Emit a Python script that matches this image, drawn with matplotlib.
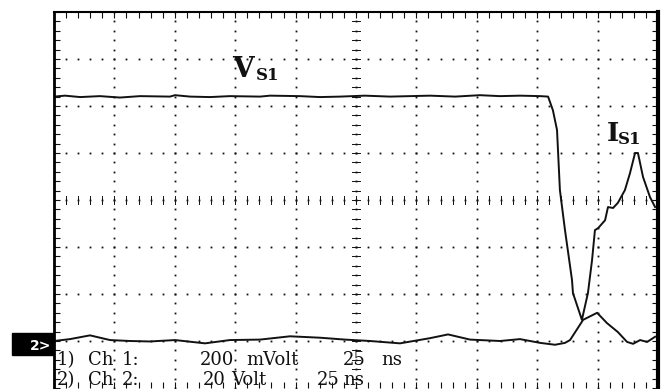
import numpy as np
from matplotlib import pyplot as plt
from matplotlib.patches import Rectangle

# traces: time in ns (25 ns/div), amplitude in divisions
ch1_t = [0, 4.6, 10.8, 19.0, 27.3, 35.6, 48.0, 50.1, 56.3, 64.6, 72.8, 85.3, 89.4,
         101.8, 110.1, 118.4, 128.7, 139.1, 147.3, 155.6, 166.0, 176.3, 184.6, 192.9,
         201.2, 204.5, 206.5, 208.2, 209.4, 211.5, 214.4, 214.8, 218.5, 221.0, 222.7,
         223.9, 225.2, 228.1, 229.3, 231.4, 233.4, 236.3, 238.4, 240.5, 241.7, 243.8,
         246.7, 248.8]
ch1_v = [2.20, 2.22, 2.19, 2.21, 2.18, 2.21, 2.20, 2.23, 2.20, 2.19, 2.21, 2.20, 2.22,
         2.21, 2.19, 2.20, 2.22, 2.20, 2.21, 2.22, 2.20, 2.23, 2.21, 2.22,
         2.21, 2.20, 1.91, 1.49, 0.21, -0.64, -1.70, -1.98, -2.55, -1.98, -1.28,
         -0.64, -0.60, -0.43, -0.15, -0.17, -0.06, 0.21, 0.57, 1.00, 1.00, 0.49,
         0.06, -0.15]

ch2_t = [0, 6.6, 14.9, 23.2, 31.5, 39.7, 50.1, 62.5, 72.8, 85.3, 97.7, 110.1, 120.4,
         130.8, 143.2, 155.6, 163.1, 172.2, 184.6, 192.9, 201.2, 207.4, 211.5, 213.6,
         219.0, 224.8, 228.9, 233.4, 237.2, 239.7, 242.6, 245.5, 248.8]
ch2_v = [-3.00, -2.96, -2.88, -2.98, -3.00, -3.01, -2.98, -3.05, -2.98, -2.97, -2.90,
         -2.93, -2.97, -3.00, -3.05, -2.94, -2.86, -2.97, -3.00, -2.96, -3.04, -3.08,
         -3.04, -2.98, -2.55, -2.40, -2.62, -2.81, -3.02, -3.06, -2.98, -3.02, -2.91]

# scope settings readout
row1 = ['1)', 'Ch', '1:', '200', 'mVolt', '25', 'ns']
row2 = ['2)', 'Ch', '2:', '20', 'Volt', '25', 'ns']

W, H = 667, 389
fig = plt.figure(figsize=(W / 100, H / 100), dpi=100)
ax = fig.add_axes([54 / W, 1 / H, 604 / W, 376 / H])
ax.set_xlim(0, 250)
ax.set_ylim(-4, 4)

ink = '#111111'

# dotted graticule
ys = np.arange(-4, 4.01, 0.2)
xs = np.arange(0, 250.1, 5)
for xv in range(25, 250, 25):
    ax.plot([xv] * len(ys), ys, 's', ms=1.3, color=ink, mew=0)
for yv in range(-3, 4):
    ax.plot(xs, [yv] * len(xs), 's', ms=1.3, color=ink, mew=0)

# centre cross ticks
for y in ys:
    ax.plot([123.3, 126.7], [y, y], color=ink, lw=0.7)
for x in xs:
    ax.plot([x, x], [-0.09, 0.09], color=ink, lw=0.7)

ax.set_xticks(xs)
ax.set_yticks(ys)
ax.tick_params(direction='in', length=4, width=0.8, top=True, right=True,
               labelbottom=False, labelleft=False, color=ink)
ax.spines['left'].set_linewidth(2.0)
ax.spines['right'].set_linewidth(3.0)
ax.spines['top'].set_linewidth(1.5)
ax.spines['bottom'].set_visible(False)

ax.plot(ch1_t, ch1_v, color=ink, lw=1.4)
ax.plot(ch2_t, ch2_v, color=ink, lw=1.4)


def ftext(x, y, s, **kw):
    fig.text(x / W, 1 - y / H, s, **kw)


serif = dict(family='DejaVu Serif', weight='bold', color=ink, va='baseline')
ftext(232, 77, 'V', fontsize=20, **serif)
ftext(256, 80, 'S1', fontsize=12, **serif)
ftext(607, 141, 'I', fontsize=19, **serif)
ftext(618, 144, 'S1', fontsize=12, **serif)

lab = dict(family='DejaVu Serif', fontsize=13, color=ink, va='baseline')
for s, x in zip(row1, [57, 88, 122, 200, 246, 343, 381]):
    ftext(x, 365, s, **lab)
for s, x in zip(row2, [57, 88, 122, 203, 231, 317, 343]):
    ftext(x, 385, s, **lab)

fig.patches.append(Rectangle((12 / W, 1 - 355 / H), 41 / W, 22 / H,
                             transform=fig.transFigure, color='black'))
ftext(30, 350, '2>', fontsize=10, color='white', weight='bold', family='DejaVu Sans')

fig.savefig('out.png', dpi=100)
